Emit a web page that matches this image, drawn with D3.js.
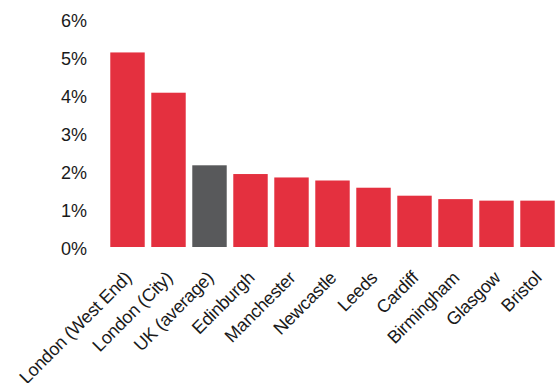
<!DOCTYPE html>
<html>
<head>
<meta charset="utf-8">
<script src="https://cdn.jsdelivr.net/npm/d3@7"></script>
<style>
  body { margin: 0; background: #fff; }
  text { font-family: "Liberation Sans", Arial, sans-serif; fill: #1a1a1a; }
</style>
</head>
<body>
<script>
// data
const cities = ["London (West End)", "London (City)", "UK (average)", "Edinburgh", "Manchester",
  "Newcastle", "Leeds", "Cardiff", "Birmingham", "Glasgow", "Bristol"];
const values = [5.12, 4.06, 2.15, 1.92, 1.83, 1.75, 1.56, 1.35, 1.26, 1.22, 1.22];
const yTicks = [0, 1, 2, 3, 4, 5, 6];
const highlight = "UK (average)";

document.addEventListener("DOMContentLoaded", function () {
  const width = 556, height = 383;

  const svg = d3.select("body").append("svg")
    .attr("width", width)
    .attr("height", height);

  const x = d3.scaleBand()
    .domain(cities)
    .range([107, 558])
    .paddingInner(0.16)
    .paddingOuter(0.08);

  const y = d3.scaleLinear()
    .domain([0, 6])
    .range([247, 19]);

  // y axis: labels only
  const yAxis = svg.append("g")
    .attr("transform", "translate(87,0)")
    .call(d3.axisLeft(y).tickValues(yTicks).tickFormat(d => d + "%").tickSize(0).tickPadding(0));
  yAxis.select(".domain").remove();
  yAxis.selectAll("text")
    .attr("font-size", 18)
    .attr("dy", "0.4em")
    .attr("fill", "#1a1a1a");

  svg.selectAll("rect.bar")
    .data(cities)
    .join("rect")
    .attr("class", "bar")
    .attr("x", d => x(d))
    .attr("width", x.bandwidth())
    .attr("y", (d, i) => y(values[i]))
    .attr("height", (d, i) => y(0) - y(values[i]))
    .attr("fill", d => d === highlight ? "#58595b" : "#e4303f");

  // x axis: rotated labels
  const xAxis = svg.append("g")
    .attr("transform", "translate(0," + y(0) + ")")
    .call(d3.axisBottom(x).tickSize(0).tickPadding(0));
  xAxis.select(".domain").remove();
  xAxis.selectAll("text")
    .attr("font-size", 18)
    .attr("letter-spacing", "-0.3px")
    .attr("text-anchor", "end")
    .attr("dy", 0)
    .attr("transform", "translate(5,32) rotate(-45)")
    .attr("fill", "#1a1a1a");
});
</script>
</body>
</html>
